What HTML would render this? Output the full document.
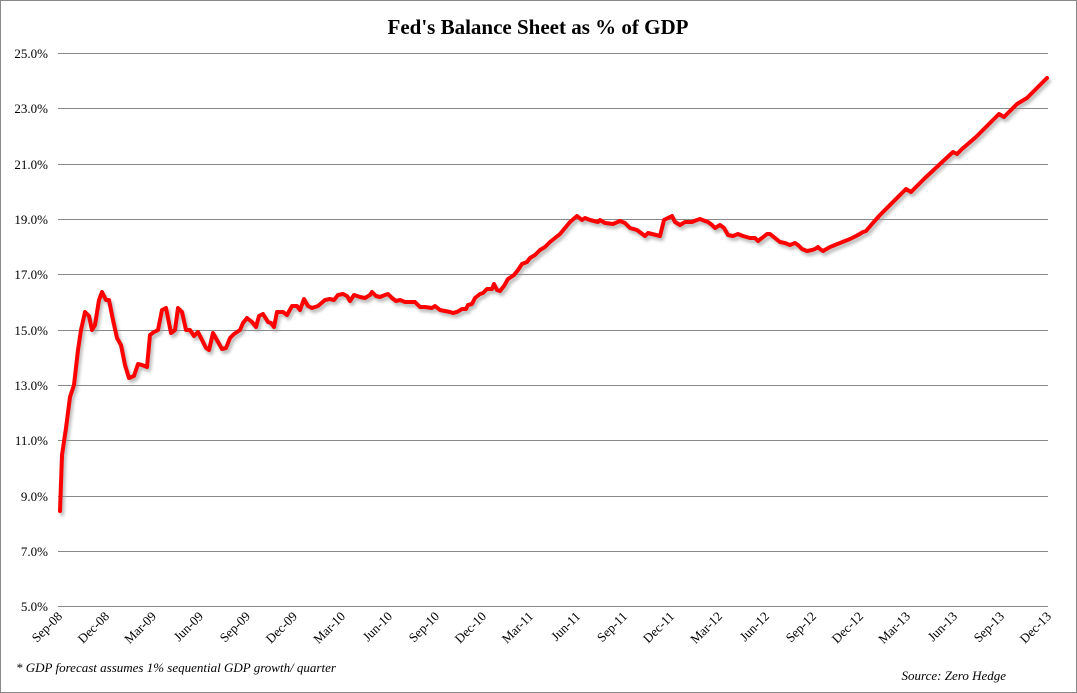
<!DOCTYPE html>
<html><head><meta charset="utf-8"><style>
html,body{margin:0;padding:0;background:#fff}
svg{display:block}
</style></head><body>
<svg width="1077" height="693" viewBox="0 0 1077 693" xmlns="http://www.w3.org/2000/svg" font-family="Liberation Serif, serif">
<rect x="0.5" y="0.5" width="1076" height="692" fill="#fff" stroke="#888"/>
<text x="538" y="34" text-anchor="middle" font-size="21" font-weight="bold" fill="#000">Fed's Balance Sheet as % of GDP</text>
<g stroke="#888" stroke-width="1">
<line x1="58" x2="1048" y1="53.5" y2="53.5"/><line x1="58" x2="1048" y1="108.5" y2="108.5"/>
<line x1="58" x2="1048" y1="164.5" y2="164.5"/><line x1="58" x2="1048" y1="219.5" y2="219.5"/>
<line x1="58" x2="1048" y1="274.5" y2="274.5"/><line x1="58" x2="1048" y1="330.5" y2="330.5"/>
<line x1="58" x2="1048" y1="385.5" y2="385.5"/><line x1="58" x2="1048" y1="440.5" y2="440.5"/>
<line x1="58" x2="1048" y1="496.5" y2="496.5"/><line x1="58" x2="1048" y1="551.5" y2="551.5"/>
<line x1="58" x2="1048" y1="606.5" y2="606.5"/>
</g>
<g font-size="13" text-anchor="end" fill="#000">
<text x="48" y="58">25.0%</text><text x="48" y="113">23.0%</text><text x="48" y="169">21.0%</text>
<text x="48" y="224">19.0%</text><text x="48" y="279">17.0%</text><text x="48" y="335">15.0%</text>
<text x="48" y="390">13.0%</text><text x="48" y="445">11.0%</text><text x="48" y="501">9.0%</text>
<text x="48" y="556">7.0%</text><text x="48" y="611">5.0%</text>
</g>
<g font-size="13" text-anchor="end" fill="#000">
<text transform="translate(63,617) rotate(-45)">Sep-08</text>
<text transform="translate(110,617) rotate(-45)">Dec-08</text>
<text transform="translate(157,617) rotate(-45)">Mar-09</text>
<text transform="translate(204,617) rotate(-45)">Jun-09</text>
<text transform="translate(251,617) rotate(-45)">Sep-09</text>
<text transform="translate(298,617) rotate(-45)">Dec-09</text>
<text transform="translate(346,617) rotate(-45)">Mar-10</text>
<text transform="translate(393,617) rotate(-45)">Jun-10</text>
<text transform="translate(440,617) rotate(-45)">Sep-10</text>
<text transform="translate(487,617) rotate(-45)">Dec-10</text>
<text transform="translate(534,617) rotate(-45)">Mar-11</text>
<text transform="translate(581,617) rotate(-45)">Jun-11</text>
<text transform="translate(628,617) rotate(-45)">Sep-11</text>
<text transform="translate(675,617) rotate(-45)">Dec-11</text>
<text transform="translate(723,617) rotate(-45)">Mar-12</text>
<text transform="translate(770,617) rotate(-45)">Jun-12</text>
<text transform="translate(817,617) rotate(-45)">Sep-12</text>
<text transform="translate(864,617) rotate(-45)">Dec-12</text>
<text transform="translate(911,617) rotate(-45)">Mar-13</text>
<text transform="translate(958,617) rotate(-45)">Jun-13</text>
<text transform="translate(1005,617) rotate(-45)">Sep-13</text>
<text transform="translate(1052,617) rotate(-45)">Dec-13</text>
</g>
<text x="16" y="672" font-size="13" font-style="italic">* GDP forecast assumes 1% sequential GDP growth/ quarter</text>
<text x="1006" y="680" font-size="13" font-style="italic" text-anchor="end">Source: Zero Hedge</text>
<defs><filter id="sh" x="-5%" y="-5%" width="110%" height="110%"><feGaussianBlur stdDeviation="1.5"/></filter>
<polyline id="p" points="60,511 62,455 66,428 70,397 74,385 78,350 81,330 85,312 89,316 92,330 95,325 99,300 102,292 106,300 109,300 113,320 117,338 121,345 125,365 129,378 134,376 138,364 142,365 147,367 150,335 154,332 158,330 162,310 166,308 171,333 175,330 178,308 182,312 186,330 190,330 194,336 198,332 202,340 206,348 209,350 213,333 218,342 222,349 226,348 230,338 234,334 240,330 243,323 247,318 252,322 256,327 259,316 263,314 268,322 271,323 274,327 277,312 283,312 287,315 292,306 297,306 300,310 304,299 308,306 312,308 318,306 325,300 330,299 334,300 338,295 343,294 347,296 350,301 354,295 360,297 365,298 370,295 372,292 376,296 380,297 385,295 388,294 392,298 396,301 400,300 405,302 410,302 415,302 420,307 425,307 432,308 435,306 440,310 445,311 450,312 453,313 457,312 462,309 466,309 468,305 472,304 475,298 480,294 483,293 487,289 492,289 494,284 497,290 500,291 504,286 508,279 514,275 518,270 522,264 527,262 530,258 535,255 540,250 545,247 550,242 555,238 560,234 570,222 577,216 582,220 585,218 590,220 598,222 600,220 605,223 613,224 620,221 625,223 630,228 637,230 645,236 648,233 652,234 660,236 664,220 672,216 675,222 680,225 685,222 692,222 697,220 700,219 705,221 708,222 712,225 715,228 720,225 724,228 728,235 733,236 738,234 743,236 750,238 755,238 758,241 762,238 767,234 770,234 775,238 780,242 785,243 790,245 795,243 798,245 802,249 807,251 812,250 815,249 818,247 820,249 823,251 830,247 840,243 850,239 858,235 863,232 866,231 872,224 880,215 906,189 911,192 925,178 953,152 957,154 962,149 976,137 999,114 1004,117 1017,104 1027,98 1047,78"/>
</defs>
<g fill="none" stroke-linejoin="round" stroke-linecap="round">
<use href="#p" transform="translate(2,3)" stroke="#999" stroke-width="4" filter="url(#sh)" opacity="0.7"/>
<use href="#p" stroke="#ff0000" stroke-width="4"/>
</g>
</svg>
</body></html>
